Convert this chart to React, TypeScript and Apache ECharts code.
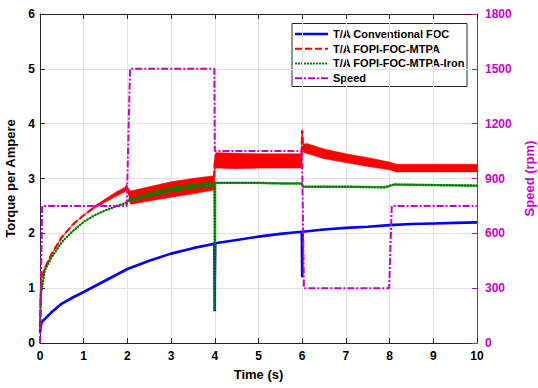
import React, { useEffect, useRef } from 'react';
import * as echarts from 'echarts';

// ---- data ----
const blueT = [0, 0.03, 0.06, 0.25, 0.5, 0.75, 1, 1.5, 2, 2.5, 3, 3.5, 3.99, 4.0, 4.0, 4.005, 4.01, 4.5, 5, 5.5, 5.99, 6.0, 6.0, 6.005, 6.01, 6.5, 7, 7.5, 8, 8.5, 9, 9.5, 10];
const blueV = [0.2, 0.36, 0.4, 0.55, 0.72, 0.83, 0.93, 1.14, 1.35, 1.5, 1.63, 1.73, 1.81, 0.58, 1.1, 1.1, 1.82, 1.88, 1.94, 1.99, 2.03, 1.2, 1.36, 1.36, 2.03, 2.07, 2.1, 2.12, 2.15, 2.17, 2.18, 2.19, 2.2];

const redT = [0, 0.03, 0.1, 0.27, 0.5, 0.75, 1, 1.25, 1.5, 1.75, 1.95, 1.98, 2.02, 2.07, 2.5, 3, 3.5, 3.98, 4.0, 4.03, 4.5, 5, 5.5, 5.98, 6.0, 6.02, 6.1, 6.5, 7, 7.5, 8, 8.15, 9, 10];
const redV = [0.3, 1.15, 1.35, 1.63, 1.93, 2.16, 2.33, 2.48, 2.6, 2.72, 2.8, 2.86, 2.78, 2.65, 2.72, 2.8, 2.86, 2.92, 3.3, 3.33, 3.32, 3.32, 3.32, 3.32, 3.88, 3.55, 3.55, 3.45, 3.37, 3.3, 3.23, 3.19, 3.19, 3.19];
const redNoise = [0, 0, 0, 0, 0, 0, 0, 0.02, 0.03, 0.04, 0.04, 0.03, 0.04, 0.12, 0.13, 0.14, 0.14, 0.13, 0.13, 0.14, 0.14, 0.13, 0.13, 0.13, 0, 0.07, 0.09, 0.09, 0.08, 0.08, 0.07, 0.07, 0.07, 0.07];

const greenT = [0, 0.02, 0.11, 0.27, 0.5, 0.75, 1, 1.25, 1.5, 1.8, 1.99, 2.05, 2.5, 3, 3.5, 3.99, 4.0, 4.005, 4.01, 4.5, 5, 5.5, 5.99, 6.02, 7, 7.9, 8.1, 9, 10];
const greenV = [0.3, 0.9, 1.33, 1.57, 1.84, 2.04, 2.21, 2.33, 2.42, 2.51, 2.56, 2.62, 2.71, 2.8, 2.86, 2.9, 0.6, 0.6, 2.92, 2.92, 2.92, 2.91, 2.91, 2.85, 2.85, 2.84, 2.89, 2.88, 2.87];
const greenNoise = [0, 0, 0, 0, 0, 0, 0, 0, 0, 0, 0, 0.03, 0.04, 0.04, 0.04, 0.04, 0, 0, 0.01, 0.01, 0.01, 0.01, 0.01, 0.01, 0.01, 0.01, 0.01, 0.01, 0.01];

const speedT = [0, 0.05, 1.985, 2.06, 3.99, 4.0, 5.995, 6.04, 7.99, 8.05, 10];
const speedV = [0, 750, 750, 1500, 1500, 1050, 1050, 300, 300, 750, 750];

const seriesNames = ['T/A Conventional FOC', 'T/A FOPI-FOC-MTPA', 'T/A FOPI-FOC-MTPA-Iron', 'Speed'];

const BLUE = '#0000ff';
const RED = '#ff0000';
const GREEN = '#008000';
const MAG = '#cc00cc';
const AX = '#262626';
const FONT = "'Liberation Sans', Arial, Helvetica, sans-serif";

const DASH_RED = [7, 3];
const DASH_GREEN = [2, 1];
const DASH_SPEED = [7, 2, 2, 2];

const pairs = (ts: number[], vs: number[]) => ts.map((t, i) => [t, vs[i]]);

function band(ts: number[], vs: number[], hw: number[], color: string) {
  return {
    type: 'custom',
    coordinateSystem: 'cartesian2d',
    xAxisIndex: 0,
    yAxisIndex: 0,
    silent: true,
    data: [[0, 0]],
    encode: { x: 0, y: 1 },
    renderItem: (_p: any, api: any) => {
      const upper = ts.map((t, i) => api.coord([t, vs[i] + hw[i]]));
      const lower = ts.map((t, i) => api.coord([t, vs[i] - hw[i]])).reverse();
      return {
        type: 'polygon',
        shape: { points: upper.concat(lower) },
        style: { fill: color, stroke: color, lineWidth: 0.6 },
      };
    },
  };
}

function legendGraphic() {
  const x0 = 292;
  const y0 = 23.5;
  const w = 175;
  const h = 63;
  const rowY = [34, 48.8, 63.4, 78.2];
  const styles = [
    { stroke: BLUE, lineWidth: 2.6, lineDash: null as any },
    { stroke: RED, lineWidth: 2, lineDash: DASH_RED },
    { stroke: GREEN, lineWidth: 2, lineDash: DASH_GREEN },
    { stroke: MAG, lineWidth: 2, lineDash: DASH_SPEED },
  ];
  const children: any[] = [
    {
      type: 'rect',
      shape: { x: x0, y: y0, width: w, height: h },
      style: { fill: '#fff', stroke: AX, lineWidth: 1 },
    },
  ];
  seriesNames.forEach((name, i) => {
    children.push({
      type: 'line',
      shape: { x1: 295, y1: rowY[i], x2: 328, y2: rowY[i] },
      style: { ...styles[i], fill: 'none' },
    });
    children.push({
      type: 'text',
      x: 333,
      y: rowY[i],
      style: {
        text: name,
        fill: '#000',
        font: `bold 11px ${FONT}`,
        verticalAlign: 'middle',
        align: 'left',
      },
    });
  });
  return [{ type: 'group', z: 100, children }];
}

export default function App() {
  const ref = useRef<HTMLDivElement>(null);
  useEffect(() => {
    if (!ref.current) return;
    const chart = echarts.init(ref.current, undefined, { renderer: 'svg' });
    const tickLabel = { fontFamily: FONT, fontWeight: 'bold', fontSize: 12, color: '#000' };
    const nameStyle = { fontFamily: FONT, fontWeight: 'bold', fontSize: 13, color: '#000' };
    chart.setOption({
      animation: false,
      backgroundColor: '#fff',
      grid: { left: 40, right: 61, top: 14, bottom: 45, containLabel: false, outerBoundsMode: 'none' },
      graphic: legendGraphic(),
      xAxis: [
        {
          type: 'value', min: 0, max: 10, interval: 1, position: 'bottom',
          axisLine: { show: true, onZero: false, lineStyle: { color: AX, width: 1 } },
          axisTick: { show: true, inside: true, length: 5, lineStyle: { color: AX } },
          axisLabel: { ...tickLabel, margin: 7 },
          splitLine: { show: true, lineStyle: { color: '#e3e3e3', width: 1 } },
          name: 'Time (s)', nameLocation: 'middle', nameGap: 25, nameTextStyle: nameStyle,
        },
        {
          type: 'value', min: 0, max: 10, interval: 1, position: 'top',
          axisLine: { show: true, onZero: false, lineStyle: { color: AX, width: 1 } },
          axisTick: { show: true, inside: true, length: 5, lineStyle: { color: AX } },
          axisLabel: { show: false },
          splitLine: { show: false },
        },
      ],
      yAxis: [
        {
          type: 'value', min: 0, max: 6, interval: 1, position: 'left',
          axisLine: { show: true, onZero: false, lineStyle: { color: AX, width: 1 } },
          axisTick: { show: true, inside: true, length: 5, lineStyle: { color: AX } },
          axisLabel: { ...tickLabel, margin: 5 },
          splitLine: { show: true, lineStyle: { color: '#e3e3e3', width: 1 } },
          name: 'Torque per Ampere', nameLocation: 'middle', nameGap: 13, nameRotate: 90,
          nameTextStyle: nameStyle,
        },
        {
          type: 'value', min: 0, max: 1800, interval: 300, position: 'right',
          axisLine: { show: true, onZero: false, lineStyle: { color: MAG, width: 1 } },
          axisTick: { show: true, inside: true, length: 5, lineStyle: { color: MAG } },
          axisLabel: { ...tickLabel, color: MAG, margin: 8, formatter: (v: number) => String(v) },
          splitLine: { show: false },
          name: 'Speed (rpm)', nameLocation: 'middle', nameGap: 38, nameRotate: 90,
          nameTextStyle: { ...nameStyle, color: MAG },
        },
      ],
      series: [
        {
          name: seriesNames[0], type: 'line', xAxisIndex: 0, yAxisIndex: 0,
          data: pairs(blueT, blueV), symbol: 'none', showSymbol: false,
          lineStyle: { color: BLUE, width: 2.6, type: 'solid' },
        },
        {
          name: seriesNames[1], type: 'line', xAxisIndex: 0, yAxisIndex: 0,
          data: pairs(redT, redV), symbol: 'none', showSymbol: false,
          lineStyle: { color: RED, width: 2.2, type: DASH_RED },
        },
        band(redT, redV, redNoise, RED),
        {
          name: seriesNames[2], type: 'line', xAxisIndex: 0, yAxisIndex: 0,
          data: pairs(greenT, greenV), symbol: 'none', showSymbol: false,
          lineStyle: { color: GREEN, width: 2.4, type: DASH_GREEN },
        },
        band(greenT, greenV, greenNoise, GREEN),
        {
          name: seriesNames[3], type: 'line', xAxisIndex: 0, yAxisIndex: 1,
          data: pairs(speedT, speedV), symbol: 'none', showSymbol: false,
          lineStyle: { color: MAG, width: 2, type: DASH_SPEED },
        },
      ],
    });
    return () => chart.dispose();
  }, []);
  return (
    <div
      ref={ref}
      style={{ position: 'fixed', left: 0, top: 0, width: 538, height: 388, background: '#fff' }}
    />
  );
}
